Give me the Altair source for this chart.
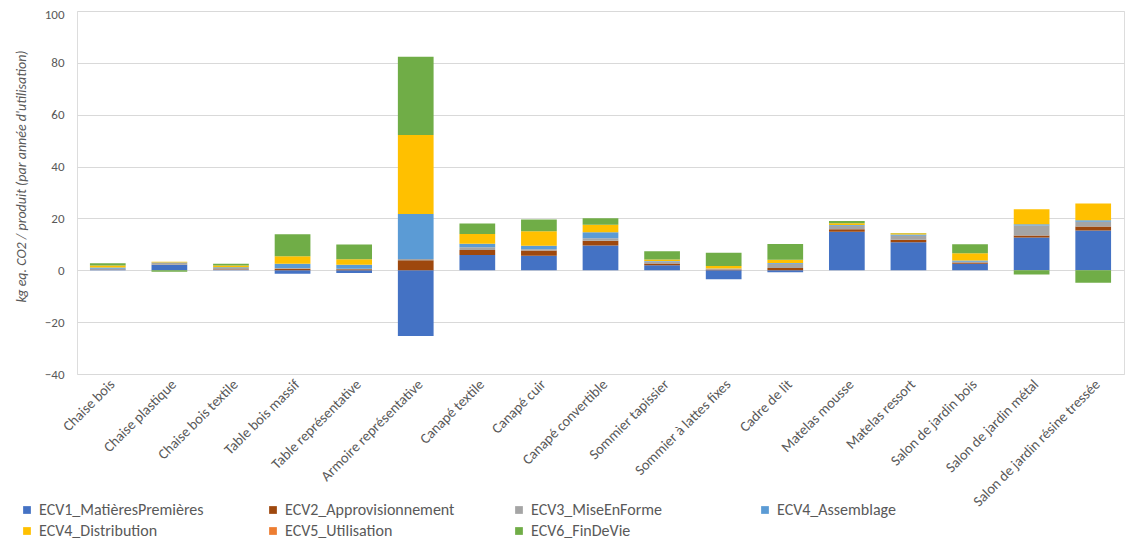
import altair as alt
import pandas as pd

categories = ["Chaise bois", "Chaise plastique", "Chaise bois textile", "Table bois massif",
              "Table représentative", "Armoire représentative", "Canapé textile", "Canapé cuir",
              "Canapé convertible", "Sommier tapissier", "Sommier à lattes fixes", "Cadre de lit",
              "Matelas mousse", "Matelas ressort", "Salon de jardin bois", "Salon de jardin métal",
              "Salon de jardin résine tressée"]

series_names = ["ECV1_MatièresPremières", "ECV2_Approvisionnement", "ECV3_MiseEnForme",
                "ECV4_Assemblage", "ECV4_Distribution", "ECV5_Utilisation", "ECV6_FinDeVie"]
series_colors = ["#4472C4", "#9E480E", "#A5A5A5", "#5B9BD5", "#FFC000", "#ED7D31", "#70AD47"]

ecv1 = [0.3, 2.0, 0.2, -1.3, -1.0, -25.3, 5.9, 5.6, 9.6, 1.9, -3.5, -0.8, 14.9, 10.8, 2.5, 12.6, 15.3]
ecv2 = [0.1, 0.1, 0.2, 0.6, 0.4, 3.9, 1.9, 2.0, 1.8, 0.7, 0.3, 0.9, 0.9, 1.0, 0.5, 0.8, 1.6]
ecv3 = [0.2, 0.7, 0.5, 0.3, 0.2, 0.5, 1.1, 0.5, 1.0, 0.8, 0.3, 1.6, 1.4, 1.5, 0.3, 3.9, 1.8]
ecv4_assemblage = [0.5, 0.2, 0.3, 1.6, 1.5, 17.3, 1.3, 1.4, 2.3, 0.2, 0.1, 0.3, 0.3, 0.5, 0.5, 0.5, 0.6]
ecv4_distribution = [0.7, 0.3, 0.6, 2.9, 2.2, 30.5, 3.8, 5.6, 2.9, 0.6, 1.0, 1.3, 0.6, 0.5, 2.8, 5.7, 6.5]
ecv5 = [0.0] * 17
ecv6 = [0.9, -0.6, 0.7, 8.5, 5.6, 30.2, 4.0, 4.5, 2.5, 3.1, 5.1, 6.0, 0.9, 0.1, 3.4, -1.6, -4.8]

all_series = [ecv1, ecv2, ecv3, ecv4_assemblage, ecv4_distribution, ecv5, ecv6]

rows = []
for si, (name, vals) in enumerate(zip(series_names, all_series)):
    for cat, v in zip(categories, vals):
        rows.append({"Produit": cat, "Etape": name, "ordre": si, "valeur": v})
df = pd.DataFrame(rows)

FONT = "Liberation Sans Narrow, Carlito, Open Sans, sans-serif"

chart = alt.Chart(df).mark_bar().encode(
    x=alt.X("Produit:N", sort=categories, title=None,
            scale=alt.Scale(paddingInner=0.42, paddingOuter=0.21),
            axis=alt.Axis(labelAngle=-45, domain=False, ticks=False, labelPadding=3,
                          labelFontSize=14.5, labelColor="#595959", labelFont=FONT,
                          labelLimit=300)),
    y=alt.Y("valeur:Q", title="kg eq. CO2 / produit (par année d'utilisation)",
            stack="zero",
            scale=alt.Scale(domain=[-40, 100], nice=False),
            axis=alt.Axis(values=[-40, -20, 0, 20, 40, 60, 80, 100], domain=False, ticks=False,
                          labelPadding=13, labelFontSize=13, labelColor="#595959", labelFont=FONT,
                          labelOffset={"condition": {"test": "datum.value == 100", "value": 3},
                                       "value": 0},
                          gridColor="#D9D9D9", gridWidth=1,
                          titleFont=FONT, titleFontSize=14, titleFontStyle="italic",
                          titleFontWeight="normal", titleColor="#595959",
                          titleAngle=-90, titleAlign="center", titleBaseline="middle",
                          titleX=-56, titleY=165)),
    color=alt.Color("Etape:N",
                    scale=alt.Scale(domain=series_names, range=series_colors),
                    legend=alt.Legend(title=None, orient="none", legendX=-58, legendY=491,
                                      direction="horizontal", columns=4, gridAlign="all",
                                      columnPadding=56, rowPadding=5, labelOffset=4,
                                      symbolType="square", symbolSize=60, symbolStrokeWidth=0,
                                      labelFontSize=16, labelColor="#595959", labelFont=FONT,
                                      labelLimit=300)),
    order=alt.Order("ordre:Q", sort="ascending"),
).properties(
    width=1047,
    height=363,
    autosize=alt.AutoSizeParams(type="none"),
    padding={"left": 69, "top": 3, "right": 9, "bottom": 169},
).configure_view(stroke=None).configure(background="white")

chart.save("out.html", embed_options={"renderer": "svg", "actions": False})
